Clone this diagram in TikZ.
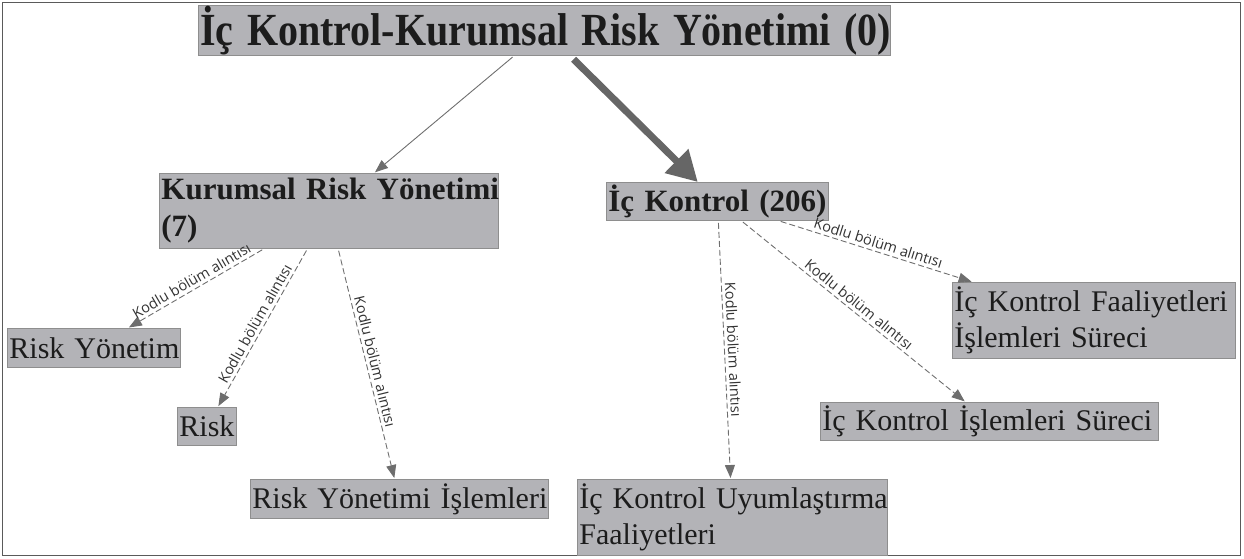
\documentclass[tikz,border=0pt]{standalone}
\usepackage{fontspec}
\usepackage{graphicx}
\setmainfont{Liberation Serif}
\newfontfamily\labelfont{Open Sans}
\usetikzlibrary{arrows.meta}
\definecolor{boxfill}{HTML}{B3B3B7}
\definecolor{boxline}{HTML}{8E8E8E}
\definecolor{conn}{HTML}{6E6E6E}
\definecolor{thickconn}{HTML}{666666}
\definecolor{txt}{HTML}{1C1C1C}
\definecolor{lbl}{HTML}{333333}
\definecolor{framecol}{HTML}{5A5A5A}
\tikzset{
  box/.style={draw=boxline, fill=boxfill, line width=0.8pt, anchor=north west,
    inner xsep=2pt, inner ysep=0pt, align=left, text=txt,
    font=\fontsize{30}{36}\selectfont},
  bbox/.style={box, font=\bfseries\fontsize{31}{37}\selectfont},
  link/.style={draw=conn, line width=0.9pt, dash pattern=on 6pt off 3pt,
    -{Triangle[length=13pt,width=10pt]}, shorten <=2pt, shorten >=1pt},
  lab/.style={midway, sloped, above, inner sep=3pt,
    font=\labelfont\fontsize{14.5}{16}\selectfont, text=lbl},
}
\begin{document}
\begin{tikzpicture}[x=1pt,y=-1pt]
\useasboundingbox (0,0) rectangle (1244,558);
\draw[framecol, line width=1.2pt] (2.5,2.5) rectangle (1240.5,555.5);

\node[box, minimum width=692pt, minimum height=50pt, text width=688pt,
  font=\bfseries\fontsize{40}{48}\selectfont] (T) at (198,5)
  {\mbox{\scalebox{1}[1.15]{İç Kontrol-Kurumsal Risk Yönetimi (0)}}};
\node[bbox, minimum width=339pt, minimum height=75pt, text width=335pt] (K) at (159,173)
  {\mbox{Kurumsal Risk Yönetimi}\\\mbox{(7)}};
\node[bbox, minimum width=222pt, minimum height=38pt, text width=218pt] (Ic) at (606,182)
  {\mbox{İç Kontrol (206)}};
\node[box, minimum width=173pt, minimum height=39pt, text width=169pt] (RY) at (7,328)
  {\mbox{Risk Yönetim}};
\node[box, minimum width=59pt, minimum height=38pt, text width=55pt] (R) at (177,407)
  {\mbox{Risk}};
\node[box, minimum width=298pt, minimum height=39pt, text width=294pt] (RYI) at (250,479)
  {\mbox{Risk Yönetimi İşlemleri}};
\node[box, minimum width=283pt, minimum height=76pt, text width=279pt] (IKF) at (952,282)
  {\mbox{İç Kontrol Faaliyetleri}\\\mbox{İşlemleri Süreci}};
\node[box, minimum width=338pt, minimum height=38pt, text width=334pt] (IKI) at (820,402)
  {\mbox{İç Kontrol İşlemleri Süreci}};
\node[box, minimum width=310pt, minimum height=76pt, text width=306pt] (IKU) at (577,479)
  {\mbox{İç Kontrol Uyumlaştırma}\\\mbox{Faaliyetleri}};

\draw[draw=conn, line width=0.9pt, -{Triangle[length=13pt,width=10pt]},
  shorten <=2pt, shorten >=1pt] (T) -- (K);
\draw[draw=thickconn, line width=7pt, -{Triangle[length=30pt,width=32pt]},
  shorten <=5pt] (T) -- (Ic);

\draw[link] (K) -- node[lab]{Kodlu bölüm alıntısı} (RY);
\draw[link] (K) -- node[lab]{Kodlu bölüm alıntısı} (R);
\draw[link] (K) -- node[lab]{Kodlu bölüm alıntısı} (RYI);
\draw[link] (Ic) -- node[lab]{Kodlu bölüm alıntısı} (IKU);
\draw[link] (Ic) -- node[lab]{Kodlu bölüm alıntısı} (IKI);
\draw[link] (Ic) -- node[lab]{Kodlu bölüm alıntısı} (IKF);
\end{tikzpicture}
\end{document}
